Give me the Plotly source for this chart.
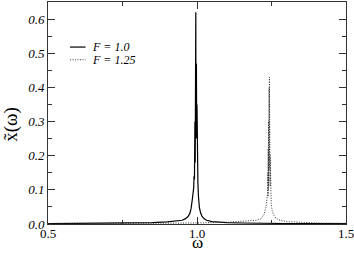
import plotly.graph_objects as go

# F = 1.0 response (solid)
w_f1 = [0.5, 0.6, 0.7, 0.8, 0.85, 0.9, 0.93, 0.95, 0.96, 0.97, 0.976, 0.980, 0.984,
        0.987, 0.989, 0.990, 0.991, 0.9915, 0.992, 0.993, 0.994, 0.995, 0.996, 0.9965,
        0.997, 0.998, 0.999, 1.000, 1.001, 1.002, 1.003, 1.005, 1.008, 1.012, 1.017,
        1.024, 1.032, 1.05, 1.08, 1.1, 1.15, 1.2, 1.3, 1.4, 1.5]
x_f1 = [0.001, 0.0015, 0.002, 0.003, 0.004, 0.006, 0.008, 0.011, 0.015, 0.022, 0.031,
        0.045, 0.07, 0.09, 0.107, 0.14, 0.23, 0.13, 0.16, 0.30, 0.18, 0.35, 0.62, 0.25,
        0.40, 0.47, 0.25, 0.35, 0.20, 0.21, 0.12, 0.08, 0.048, 0.033, 0.022,
        0.015, 0.011, 0.007, 0.005, 0.004, 0.003, 0.002, 0.0015, 0.001, 0.001]

# F = 1.25 response (dotted)
w_f2 = [0.5, 0.7, 0.9, 1.0, 1.1, 1.15, 1.2, 1.214, 1.225, 1.231, 1.235, 1.237,
        1.238, 1.2385, 1.239, 1.2395, 1.240, 1.2405, 1.241, 1.2415, 1.242, 1.2425,
        1.243, 1.2435, 1.244, 1.2445, 1.245, 1.2455, 1.246, 1.247, 1.249, 1.252,
        1.257, 1.264, 1.275, 1.3, 1.35, 1.4, 1.5]
x_f2 = [0.0005, 0.001, 0.002, 0.003, 0.005, 0.007, 0.011, 0.015, 0.028, 0.048, 0.07, 0.09,
        0.15, 0.08, 0.22, 0.10, 0.30, 0.12, 0.36, 0.14, 0.40, 0.16, 0.43, 0.15, 0.38,
        0.13, 0.30, 0.11, 0.20, 0.09, 0.06, 0.04,
        0.027, 0.018, 0.012, 0.007, 0.004, 0.003, 0.002]

y_ticks = [0.0, 0.1, 0.2, 0.3, 0.4, 0.5, 0.6]
y_labels = ["<i>0.0</i>", "<i>0.1</i>", "<i>0.2</i>", "<i>0.3</i>",
            "<i>0.4</i>", "<i>0.5</i>", "<i>0.6</i>"]
x_ticks = [0.5, 1.0, 1.5]
x_labels = ["0.5", "1.0", "1.5"]

serif = "Liberation Serif, serif"
dotted = "1px,1.5px"

fig = go.Figure()
fig.add_trace(go.Scatter(x=w_f1, y=x_f1, mode="lines",
                         line=dict(color="black", width=1.2), showlegend=False))
fig.add_trace(go.Scatter(x=w_f2, y=x_f2, mode="lines",
                         line=dict(color="#333333", width=1, dash=dotted), showlegend=False))

# hand-drawn legend (short sample lines)
fig.add_shape(type="line", xref="paper", yref="paper", x0=0.074, x1=0.126, y0=0.797, y1=0.797,
              line=dict(color="black", width=1.2))
fig.add_shape(type="line", xref="paper", yref="paper", x0=0.074, x1=0.126, y0=0.74, y1=0.74,
              line=dict(color="#333333", width=1, dash=dotted))
fig.add_annotation(xref="paper", yref="paper", x=0.14, y=0.797, xanchor="left", yanchor="middle",
                   text="<i>F = 1.0</i>", showarrow=False, font=dict(family=serif, size=12, color="black"))
fig.add_annotation(xref="paper", yref="paper", x=0.14, y=0.74, xanchor="left", yanchor="middle",
                   text="<i>F = 1.25</i>", showarrow=False, font=dict(family=serif, size=12, color="black"))

# axis titles placed as annotations
fig.add_annotation(xref="paper", yref="paper", x=0.5, y=-0.085, xanchor="center", yanchor="middle",
                   text="ω", showarrow=False, font=dict(family=serif, size=17, color="black"))
fig.add_annotation(xref="paper", yref="paper", x=-0.125, y=0.45, xanchor="center", yanchor="middle",
                   text="x̃(ω)", textangle=-90, showarrow=False,
                   font=dict(family=serif, size=19, color="black"))

axis_common = dict(showline=True, linecolor="#333333", linewidth=1, mirror="allticks",
                   ticks="inside", ticklen=7, tickcolor="#333333", showgrid=False, zeroline=False,
                   automargin=False, ticklabeloverflow="allow")

fig.update_xaxes(range=[0.5, 1.5], tickvals=x_ticks, ticktext=x_labels,
                 minor=dict(ticks="inside", dtick=0.25, ticklen=4, tickcolor="#333333"),
                 tickfont=dict(family=serif, size=13, color="black"), ticklabelstandoff=-3,
                 **axis_common)
fig.update_yaxes(range=[0, 0.65], tickvals=y_ticks, ticktext=y_labels,
                 minor=dict(ticks="inside", dtick=0.05, ticklen=4, tickcolor="#333333"),
                 tickfont=dict(family=serif, size=13, color="black"),
                 **axis_common)

fig.update_layout(width=354, height=254, margin=dict(l=48, r=8, t=2, b=30),
                  plot_bgcolor="white", paper_bgcolor="white")

fig.write_html("out.html", config={"displayModeBar": False},
               post_script="document.body.style.margin='0';")
